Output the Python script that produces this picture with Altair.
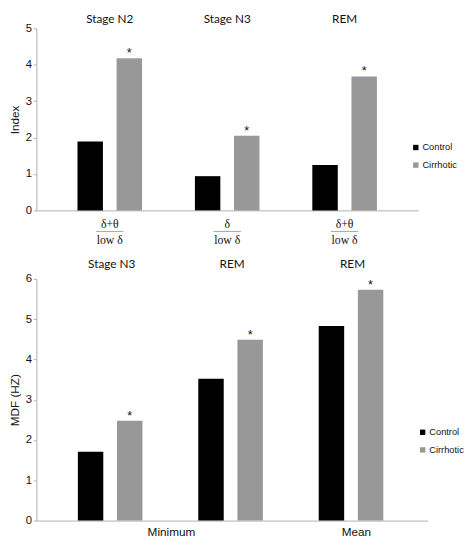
import altair as alt
import pandas as pd

# ---------------- data ----------------
series = ["Control", "Cirrhotic"]
bar_colors = ["#000000", "#989898"]

top_keys = ["N2", "N3", "REM"]
top_titles = ["Stage N2", "Stage N3", "REM"]
top_control = [1.89, 0.94, 1.25]
top_cirrhotic = [4.18, 2.05, 3.68]
top_numerators = ["δ+θ", "δ", "δ+θ"]
top_denominators = ["low δ", "low δ", "low δ"]
top_ticks = [0, 1, 2, 3, 4, 5]

bot_keys = ["MinN3", "MinREM", "MeanREM"]
bot_titles = ["Stage N3", "REM", "REM"]
bot_control = [1.71, 3.52, 4.83]
bot_cirrhotic = [2.48, 4.49, 5.73]
bot_ticks = [0, 1, 2, 3, 4, 5, 6]
bot_xlabels = ["Minimum", "Mean"]
bot_xlabel_at = ["MinREM", "MeanREM"]

GRAY_AX = "#B0B0B0"
SANS = "Liberation Sans"

X_AXIS = alt.Axis(labels=False, ticks=False, title=None,
                  domainColor=GRAY_AX, grid=False)


def y_axis(ticks, ytitle):
    return alt.Axis(values=ticks, grid=False, tickSize=3,
                    tickColor=GRAY_AX, domainColor=GRAY_AX,
                    labelFont=SANS, labelFontSize=11.5,
                    labelColor="#111111", labelPadding=2,
                    labelOverlap=False, labelFlush=False,
                    title=ytitle, titleFont=SANS,
                    titleFontSize=12, titleFontWeight="normal",
                    titleColor="#111111", titlePadding=4)


def make_panel(keys, titles, control, cirrhotic, ticks, ytitle,
               title_y, legend_x, legend_y):
    rows = []
    for k, t, c, r in zip(keys, titles, control, cirrhotic):
        rows.append({"key": k, "title": t, "series": "Control", "value": c})
        rows.append({"key": k, "title": t, "series": "Cirrhotic", "value": r})
    df = pd.DataFrame(rows)
    tdf = pd.DataFrame({"key": keys, "title": titles})

    xs = alt.Scale(domain=keys, paddingInner=0, paddingOuter=0.125)
    xo = alt.Scale(domain=series, paddingInner=0.35, paddingOuter=0.675)
    ys = alt.Scale(domain=[0, ticks[-1]], nice=False)
    ya = y_axis(ticks, ytitle)

    bars = alt.Chart(df).mark_bar().encode(
        x=alt.X("key:N", scale=xs, sort=keys, axis=X_AXIS),
        xOffset=alt.XOffset("series:N", scale=xo, sort=series),
        y=alt.Y("value:Q", scale=ys, axis=ya),
        color=alt.Color("series:N", sort=series,
                        scale=alt.Scale(domain=series, range=bar_colors),
                        legend=alt.Legend(orient="none", legendX=legend_x,
                                          legendY=legend_y, title=None,
                                          symbolType="square",
                                          symbolSize=30,
                                          symbolStrokeWidth=0,
                                          labelFont=SANS,
                                          labelFontSize=9.5,
                                          labelColor="#111111",
                                          labelOffset=2, rowPadding=7,
                                          padding=0)),
    )

    stars = alt.Chart(df).transform_filter(
        alt.datum.series == "Cirrhotic"
    ).mark_text(text="*", font=SANS, fontSize=13, baseline="middle",
                dy=-5, color="#111111").encode(
        x=alt.X("key:N", scale=xs, sort=keys, axis=X_AXIS),
        xOffset=alt.XOffset("series:N", scale=xo, sort=series),
        y=alt.Y("value:Q", scale=ys, axis=ya),
    )

    heads = alt.Chart(tdf).mark_text(font="Lato", fontSize=12,
                                     baseline="middle",
                                     color="#111111").encode(
        x=alt.X("key:N", scale=xs, sort=keys, axis=X_AXIS),
        y=alt.value(title_y),
        text="title:N",
    )
    return xs, [bars, stars, heads]


# ---------------- top panel ----------------
W1, H1 = 390, 186
xs1, layers1 = make_panel(
    top_keys, top_titles, top_control, top_cirrhotic, top_ticks,
    "Index", -9, 383, 117)

frac = pd.DataFrame({"key": top_keys, "num": top_numerators,
                     "den": top_denominators})
num = alt.Chart(frac).mark_text(font="Liberation Serif", fontSize=12,
                                baseline="middle", color="#111111").encode(
    x=alt.X("key:N", scale=xs1, sort=top_keys, axis=X_AXIS),
    y=alt.value(H1 + 14), text="num:N")
line = alt.Chart(frac).mark_tick(orient="horizontal", size=28,
                                 thickness=1, color="#808080").encode(
    x=alt.X("key:N", scale=xs1, sort=top_keys, axis=X_AXIS),
    y=alt.value(H1 + 21.5))
den = alt.Chart(frac).mark_text(font="Liberation Serif", fontSize=12,
                                baseline="middle", color="#111111").encode(
    x=alt.X("key:N", scale=xs1, sort=top_keys, axis=X_AXIS),
    y=alt.value(H1 + 30), text="den:N")

top = alt.layer(*layers1, num, line, den).properties(width=W1, height=H1)

# ---------------- bottom panel ----------------
W2, H2 = 400, 247
xs2, layers2 = make_panel(
    bot_keys, bot_titles, bot_control, bot_cirrhotic, bot_ticks,
    "MDF (HZ)", -15, 390, 152)

xl = pd.DataFrame({"key": bot_xlabel_at, "label": bot_xlabels})
lab_min = alt.Chart(xl).transform_filter(
    alt.datum.label == "Minimum"
).mark_text(font=SANS, fontSize=12, baseline="middle", dx=-62,
            color="#111111").encode(
    x=alt.X("key:N", scale=xs2, sort=bot_keys, axis=X_AXIS),
    y=alt.value(H2 + 12), text="label:N")
lab_mean = alt.Chart(xl).transform_filter(
    alt.datum.label == "Mean"
).mark_text(font=SANS, fontSize=12, baseline="middle", dx=4,
            color="#111111").encode(
    x=alt.X("key:N", scale=xs2, sort=bot_keys, axis=X_AXIS),
    y=alt.value(H2 + 12), text="label:N")

bottom = alt.layer(*layers2, lab_min, lab_mean).properties(width=W2,
                                                           height=H2)

chart = alt.vconcat(top, bottom, spacing=13).resolve_scale(
    color="independent", x="independent"
).properties(
    padding={"left": 0, "top": 0, "right": 0, "bottom": -5}
).configure_view(stroke=None)

chart.save("out.html", embed_options={"renderer": "svg", "actions": False})
